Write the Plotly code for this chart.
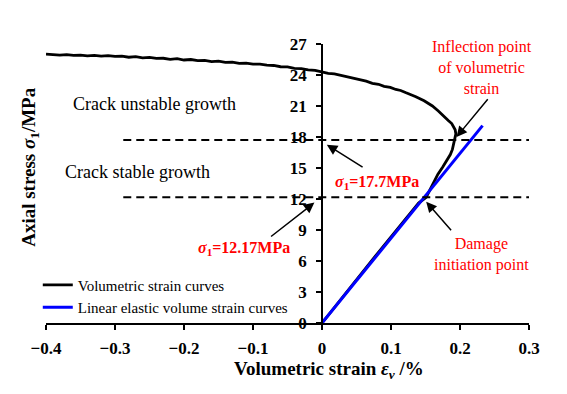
import plotly.graph_objects as go

# Volumetric strain curve (strain %, axial stress MPa)
vol_strain = [0.0, 0.010, 0.020, 0.030, 0.040, 0.050, 0.060, 0.070, 0.080, 0.090,
              0.100, 0.110, 0.120, 0.130, 0.140, 0.151, 0.160, 0.168, 0.175, 0.182,
              0.186, 0.189, 0.191, 0.193, 0.194, 0.193, 0.191, 0.188, 0.183, 0.177,
              0.169, 0.160, 0.148, 0.136, 0.128, 0.121, 0.114, 0.107, 0.099, 0.090,
              0.082, 0.073, 0.064, 0.054, 0.045, 0.035, 0.027, 0.018, 0.009, 0.000,
              -0.010, -0.020, -0.030, -0.040, -0.050, -0.060, -0.070, -0.080, -0.090,
              -0.100, -0.110, -0.120, -0.130, -0.140, -0.150, -0.160, -0.170, -0.180,
              -0.190, -0.200, -0.210, -0.220, -0.230, -0.240, -0.250, -0.260, -0.270,
              -0.280, -0.290, -0.300, -0.310, -0.320, -0.330, -0.340, -0.350, -0.360,
              -0.370, -0.380, -0.390, -0.400]
vol_stress = [0.0, 0.85, 1.7, 2.55, 3.4, 4.25, 5.05, 5.9, 6.7, 7.5,
              8.3, 9.1, 9.9, 10.75, 11.6, 12.17, 13.4, 14.4, 15.1, 15.8,
              16.3, 16.8, 17.3, 17.9, 18.3, 18.7, 19.0, 19.3, 19.6, 20.0,
              20.5, 21.0, 21.5, 21.9, 22.15, 22.3, 22.5, 22.6, 22.8, 22.9,
              23.1, 23.2, 23.4, 23.55, 23.7, 23.9, 23.95, 24.1, 24.15, 24.3,
              24.45, 24.5, 24.62, 24.65, 24.78, 24.8, 24.92, 24.95, 25.05, 25.05,
              25.15, 25.12, 25.25, 25.22, 25.35, 25.3, 25.42, 25.4, 25.5, 25.45,
              25.58, 25.52, 25.62, 25.6, 25.7, 25.66, 25.78, 25.72, 25.82, 25.8,
              25.88, 25.82, 25.9, 25.86, 25.92, 25.9, 25.98, 25.92, 25.98, 26.02]

# Linear elastic volume strain line
lin_strain = [0.0, 0.2327]
lin_stress = [0.0, 19.1]

# Threshold stresses
thresholds = [17.7, 12.17]

x_ticks = [-0.4, -0.3, -0.2, -0.1, 0.0, 0.1, 0.2, 0.3]
x_labels = ["\u22120.4", "\u22120.3", "\u22120.2", "\u22120.1", "0", "0.1", "0.2", "0.3"]
y_ticks = [0, 3, 6, 9, 12, 15, 18, 21, 24, 27]
y_labels = ["0", "3", "6", "9", "12", "15", "18", "21", "24", "27"]

FONT = "Times New Roman, Liberation Serif, serif"

fig = go.Figure()
fig.add_trace(go.Scatter(x=vol_strain, y=vol_stress, mode="lines",
                         line=dict(color="black", width=2.8),
                         name="Volumetric strain curves", legendgroup="a"))
fig.add_trace(go.Scatter(x=lin_strain, y=lin_stress, mode="lines",
                         line=dict(color="#0000ff", width=3),
                         name="Linear elastic volume strain curves", legendgroup="b"))

for t in thresholds:
    fig.add_shape(type="line", x0=-0.288, x1=0.3, y0=t, y1=t, xref="x", yref="y",
                  line=dict(color="black", width=2, dash="8px,5px"))

def arrow(x, y, ax, ay):
    fig.add_annotation(x=x, y=y, ax=ax, ay=ay, xref="x", yref="y", axref="x", ayref="y",
                       text="", showarrow=True, arrowhead=2, arrowsize=1.4,
                       arrowwidth=1.5, arrowcolor="black")

arrow(0.195, 18.0, 0.242, 21.8)
arrow(0.007, 17.25, 0.061, 15.0)
arrow(-0.011, 11.65, -0.076, 8.26)
arrow(0.151, 11.74, 0.189, 8.84)

def txt(x, y, s, color="black", size=16, bold=False):
    fig.add_annotation(x=x, y=y, xref="x", yref="y", text=s, showarrow=False,
                       font=dict(family=FONT, size=size, color=color,
                                 weight="bold" if bold else "normal"),
                       xanchor="center", yanchor="middle")

txt(-0.243, 21.2, "Crack unstable growth", size=18)
txt(-0.268, 14.65, "Crack stable growth", size=18)
txt(0.232, 24.7, "Inflection point<br>of volumetric<br>strain", color="#ff0000", size=16)
txt(0.231, 6.6, "Damage<br>initiation point", color="#ff0000", size=16)
txt(0.079, 13.6, "<i>σ</i><sub>1</sub>=17.7MPa", color="#ff0000", size=16, bold=True)
txt(-0.113, 7.2, "<i>σ</i><sub>1</sub>=12.17MPa", color="#ff0000", size=16, bold=True)

fig.add_annotation(x=-0.033, y=0.56, xref="paper", yref="paper", textangle=-90,
                   xanchor="center", yanchor="middle",
                   text="Axial stress <i>σ</i><sub>1</sub>/MPa", showarrow=False,
                   font=dict(family=FONT, size=19, color="black", weight="bold"))
fig.add_annotation(x=0.586, y=-0.167, xref="paper", yref="paper",
                   xanchor="center", yanchor="middle",
                   text="Volumetric strain <i>ε<sub>v</sub></i> /%", showarrow=False,
                   font=dict(family=FONT, size=19, color="black", weight="bold"))

# the page body has an 8px margin, so the figure is shifted by 8px
fig.update_layout(
    width=559, height=386,
    margin=dict(l=38, r=38, t=36, b=71),
    paper_bgcolor="white", plot_bgcolor="white",
    font=dict(family=FONT, color="black"),
    showlegend=True,
    legend=dict(x=-0.017, y=0.195, xanchor="left", yanchor="top",
                bgcolor="rgba(0,0,0,0)", font=dict(family=FONT, size=15),
                tracegroupgap=0, itemwidth=30),
    xaxis=dict(range=[-0.4, 0.3], domain=[0, 1], tickvals=x_ticks,
               ticktext=["<b>" + s + "</b>" for s in x_labels],
               showgrid=False, zeroline=False, showline=True, linecolor="black",
               linewidth=1.5, ticks="outside", ticklen=5, tickwidth=1.5,
               tickcolor="black", tickfont=dict(family=FONT, size=17, weight="bold"),
               ticklabelstandoff=4, anchor="y"),
    yaxis=dict(range=[0, 27], tickvals=y_ticks,
               ticktext=["<b>" + s + "</b>" for s in y_labels],
               showgrid=False, zeroline=False,
               showline=True, linecolor="black", linewidth=1.5, ticks="outside",
               ticklen=5, tickwidth=1.5, tickcolor="black",
               tickfont=dict(family=FONT, size=17, weight="bold"),
               ticklabelstandoff=6, anchor="free", position=0.4 / 0.7),
)

fig.write_html("out.html")
